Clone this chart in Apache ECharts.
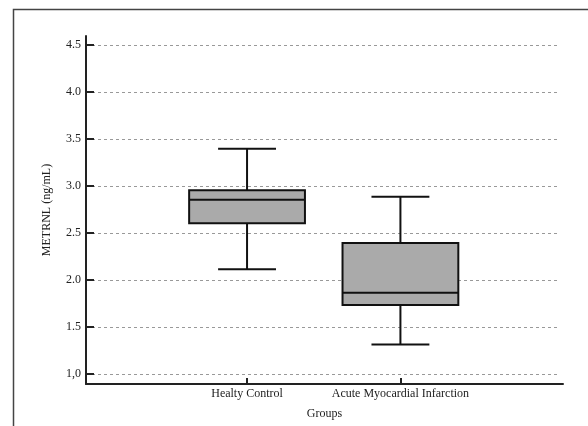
<!DOCTYPE html>
<html lang="en">
<head>
    <meta charset="UTF-8">
    <title>METRNL boxplot</title>
    <script src="https://cdn.jsdelivr.net/npm/echarts@6/dist/echarts.min.js"></script>
    <style>
        body { margin: 0; background: #fff; }
    </style>
</head>
<body>
    <div id="chart" style="width: 588px; height: 426px;"></div>
    <script>
        // groups and their box statistics: low whisker, Q1, median, Q3, high whisker
        var groups = ['Healty Control', 'Acute Myocardial Infarction']
        var groupPos = [1, 2]
        var lowWhisker = [2.12, 1.32]
        var q1 = [2.61, 1.74]
        var median = [2.86, 1.87]
        var q3 = [2.96, 2.40]
        var highWhisker = [3.40, 2.89]
        var yTicks = [1.0, 1.5, 2.0, 2.5, 3.0, 3.5, 4.0, 4.5]

        var boxData = groupPos.map(function (p, i) {
            return [p, lowWhisker[i], q1[i], median[i], q3[i], highWhisker[i]]
        })

        var font = 'Liberation Serif'
        var BOX_W = 0.755   // in x units

        var chart = echarts.init(document.getElementById('chart'))

        function renderBox(params, api) {
            var x = api.value(0)
            var pLow = api.coord([x, api.value(1)])
            var pQ1 = api.coord([x, api.value(2)])
            var pMed = api.coord([x, api.value(3)])
            var pQ3 = api.coord([x, api.value(4)])
            var pHigh = api.coord([x, api.value(5)])
            var half = api.size([BOX_W, 0])[0] / 2
            var cap = half / 2
            var cx = pMed[0]
            var st = { stroke: '#111', lineWidth: 2 }
            return {
                type: 'group',
                children: [
                    { type: 'line', shape: { x1: cx, y1: pQ3[1], x2: cx, y2: pHigh[1] }, style: st },
                    { type: 'line', shape: { x1: cx, y1: pQ1[1], x2: cx, y2: pLow[1] }, style: st },
                    { type: 'line', shape: { x1: cx - cap, y1: pHigh[1], x2: cx + cap, y2: pHigh[1] }, style: st },
                    { type: 'line', shape: { x1: cx - cap, y1: pLow[1], x2: cx + cap, y2: pLow[1] }, style: st },
                    { type: 'rect', shape: { x: cx - half, y: pQ3[1], width: half * 2, height: pQ1[1] - pQ3[1] },
                      style: { fill: '#aaaaaa', stroke: '#111', lineWidth: 2 } },
                    { type: 'line', shape: { x1: cx - half, y1: pMed[1], x2: cx + half, y2: pMed[1] }, style: st }
                ]
            }
        }

        var option = {
            backgroundColor: '#fff',
            animation: false,
            graphic: [{
                type: 'rect',
                left: 11, top: 7,
                shape: { width: 700, height: 500 },
                style: { fill: 'none', stroke: '#444', lineWidth: 1.5 },
                silent: true
            }],
            grid: [
                { left: 86, right: 25, top: 36, height: 348, containLabel: false, outerBoundsMode: 'none' },
                { left: 86, right: 28, top: 45, height: 329, containLabel: false, outerBoundsMode: 'none' }
            ],
            xAxis: [{
                gridIndex: 0,
                type: 'value',
                min: -0.05,
                max: 3.06,
                name: 'Groups',
                nameLocation: 'middle',
                nameGap: 24,
                nameTextStyle: { fontFamily: font, fontSize: 12, color: '#222' },
                axisLine: { show: true, onZero: false, lineStyle: { color: '#222', width: 2 } },
                axisTick: { show: true, inside: true, length: 6, customValues: groupPos,
                    lineStyle: { color: '#222', width: 2 } },
                axisLabel: {
                    customValues: groupPos,
                    margin: 4,
                    fontFamily: font, fontSize: 12, color: '#222',
                    formatter: function (v) { return groups[groupPos.indexOf(v)] || '' }
                },
                splitLine: { show: false }
            }, {
                gridIndex: 1,
                type: 'value',
                min: -0.05,
                max: 3.06,
                show: false
            }],
            yAxis: [{
                gridIndex: 0,
                type: 'value',
                min: 0.9,
                max: 4.6,
                name: 'METRNL (ng/mL)',
                nameLocation: 'middle',
                nameGap: 33,
                nameTextStyle: { fontFamily: font, fontSize: 12, color: '#222' },
                axisLine: { show: true, onZero: false, lineStyle: { color: '#222', width: 2 } },
                axisTick: { show: false },
                axisLabel: { show: false },
                splitLine: { show: false }
            }, {
                gridIndex: 1,
                type: 'value',
                min: yTicks[0],
                max: yTicks[yTicks.length - 1],
                interval: 0.5,
                axisLine: { show: false, onZero: false },
                axisTick: { show: true, inside: true, length: 8, lineStyle: { color: '#222', width: 2 } },
                axisLabel: {
                    margin: 5,
                    fontFamily: font, fontSize: 12, color: '#222',
                    formatter: function (v) { return v === 1 ? '1,0' : v.toFixed(1) }
                },
                splitLine: { show: true, lineStyle: { color: '#999', type: [3, 3], width: 1 } }
            }],
            series: [{
                type: 'custom',
                xAxisIndex: 0,
                yAxisIndex: 0,
                renderItem: renderBox,
                encode: { x: 0, y: [1, 2, 3, 4, 5] },
                data: boxData,
                z: 5
            }]
        }
        chart.setOption(option)
    </script>
</body>
</html>
